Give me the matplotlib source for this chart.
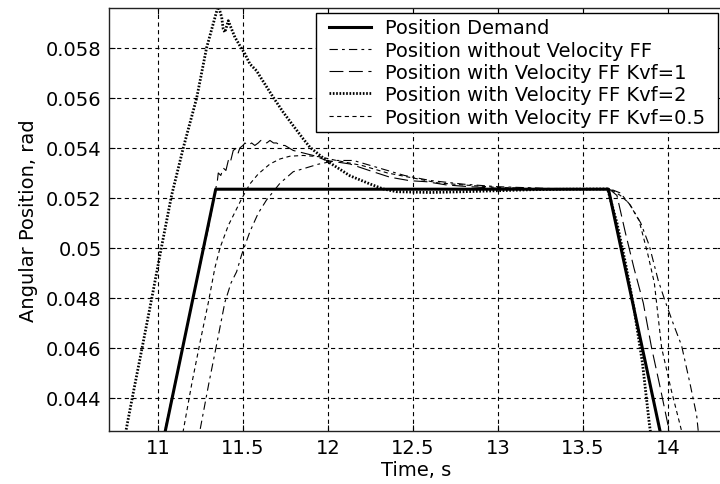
import matplotlib
matplotlib.use("Agg")
import matplotlib.pyplot as plt
from matplotlib.path import Path

plt.rcParams['font.family'] = ['DejaVu Sans']
plt.rcParams['lines.scale_dashes'] = False

# ---- data (time in s, angular position in rad) ----
demand_t = [10.60, 11.34, 13.65, 14.40]
demand_v = [0.02823, 0.05235, 0.05235, 0.02844]

noff_t = [11.10, 11.247, 11.30, 11.35, 11.394, 11.43, 11.463, 11.492, 11.541, 11.590,
          11.639, 11.718, 11.796, 11.875, 11.943, 12.05, 12.15, 12.30, 12.45, 12.60,
          12.80, 13.00, 13.30, 13.66, 13.72, 13.78, 13.84, 13.89, 13.943, 13.982,
          14.035, 14.080, 14.129, 14.169, 14.178, 14.30]
noff_v = [0.0392, 0.04269, 0.0446, 0.0463, 0.04783, 0.0486, 0.04905, 0.04972, 0.05065, 0.05139,
          0.05192, 0.05259, 0.05305, 0.05321, 0.05335, 0.05350, 0.05350, 0.05320, 0.05290, 0.05270,
          0.05255, 0.05245, 0.05238, 0.05236, 0.0522, 0.0517, 0.0510, 0.0501, 0.0487, 0.0479,
          0.0469, 0.0461, 0.0446, 0.0433, 0.04269, 0.0390]

kvf1_t = [10.90, 11.00, 11.10, 11.20, 11.30, 11.341, 11.350, 11.355, 11.370, 11.384,
          11.400, 11.414, 11.425, 11.443, 11.463, 11.472, 11.482, 11.500, 11.512, 11.531,
          11.551, 11.570, 11.590, 11.605, 11.620, 11.640, 11.659, 11.680, 11.698, 11.720,
          11.747, 11.796, 11.855, 11.914, 11.992, 12.129, 12.247, 12.365, 12.482, 12.580,
          12.698, 12.835, 12.990, 13.300, 13.655, 13.70, 13.75, 13.80, 13.855, 13.904,
          13.955, 14.007, 14.10]
kvf1_v = [0.0382, 0.0414, 0.0446, 0.0478, 0.0509, 0.0524, 0.0527, 0.0530, 0.0529, 0.0532,
          0.0531, 0.0535, 0.0534, 0.0539, 0.0540, 0.0538, 0.0540, 0.0541, 0.0542, 0.0541,
          0.0542, 0.0541, 0.0542, 0.0543, 0.0543, 0.0542, 0.0543, 0.0542, 0.0542, 0.0541,
          0.0541, 0.0539, 0.0538, 0.0537, 0.0535, 0.05336, 0.05309, 0.05283, 0.05269, 0.05265,
          0.05252, 0.05245, 0.05239, 0.05237, 0.05236, 0.0521, 0.0506, 0.0492, 0.0478, 0.0460,
          0.0444, 0.0427, 0.0397]

kvf2_t = [10.70, 10.812, 10.849, 10.904, 10.963, 11.02, 11.08, 11.149, 11.228, 11.286,
          11.355, 11.375, 11.384, 11.394, 11.414, 11.433, 11.453, 11.482, 11.512, 11.541,
          11.580, 11.610, 11.678, 11.737, 11.796, 11.855, 11.894, 11.992, 12.129, 12.247,
          12.325, 12.404, 12.600, 12.800, 13.000, 13.200, 13.400, 13.645, 13.70, 13.75,
          13.80, 13.85, 13.89, 13.95]
kvf2_v = [0.0391, 0.04269, 0.0440, 0.0459, 0.04796, 0.0500, 0.05209, 0.0540, 0.0560, 0.0580,
          0.0597, 0.05923, 0.05876, 0.05863, 0.05909, 0.05876, 0.05843, 0.05809, 0.05776, 0.05736,
          0.05709, 0.05676, 0.05603, 0.05543, 0.05489, 0.05436, 0.05403, 0.05349, 0.05289, 0.05256,
          0.05236, 0.05225, 0.05222, 0.05225, 0.05229, 0.05233, 0.05235, 0.05236, 0.0510, 0.0494,
          0.0476, 0.0454, 0.0430, 0.0400]

kvf05_t = [11.00, 11.149, 11.20, 11.25, 11.296, 11.335, 11.365, 11.414, 11.453, 11.492,
           11.541, 11.590, 11.659, 11.718, 11.776, 11.855, 11.950, 12.050, 12.200, 12.350,
           12.500, 12.650, 12.800, 13.000, 13.300, 13.660, 13.720, 13.770, 13.830, 13.880,
           13.920, 13.963, 14.020, 14.080, 14.180]
kvf05_v = [0.0378, 0.04269, 0.0446, 0.0463, 0.0478, 0.0492, 0.0500, 0.0509, 0.05143, 0.05196,
           0.05256, 0.05296, 0.05336, 0.05356, 0.05367, 0.05370, 0.05365, 0.05350, 0.05330, 0.05300,
           0.05280, 0.05260, 0.05252, 0.05242, 0.05237, 0.05236, 0.0521, 0.0518, 0.0511, 0.0498,
           0.0486, 0.0460, 0.0443, 0.04269, 0.0395]

labels = ['Position Demand', 'Position without Velocity FF',
          'Position with Velocity FF Kvf=1', 'Position with Velocity FF Kvf=2',
          'Position with Velocity FF Kvf=0.5']

xticks = [11, 11.5, 12, 12.5, 13, 13.5, 14]
yticks = [0.044, 0.046, 0.048, 0.05, 0.052, 0.054, 0.056, 0.058]
yticklabels = ['0.044', '0.046', '0.048', '0.05', '0.052', '0.054', '0.056', '0.058']


def legend_frame(x0, y0, width, height, mutation_size):
    """Rectangular legend frame, padded wider left/right than top/bottom."""
    px = 0.46 * mutation_size
    py = 0.06 * mutation_size
    verts = [(x0 - px, y0 - py), (x0 + width + px, y0 - py),
             (x0 + width + px, y0 + height + py), (x0 - px, y0 + height + py),
             (x0 - px, y0 - py)]
    codes = [Path.MOVETO, Path.LINETO, Path.LINETO, Path.LINETO, Path.CLOSEPOLY]
    return Path(verts, codes)


fig = plt.figure(figsize=(7.2, 4.85), dpi=100)
ax = fig.add_axes([0.1518, 0.1099, 0.8524, 0.8716])

ax.plot(demand_t, demand_v, color='black', lw=2.2, ls='-', label=labels[0], zorder=5)
ax.plot(noff_t, noff_v, color='black', lw=0.8, ls=(0, (6, 3, 2, 3)), label=labels[1])
ax.plot(kvf1_t, kvf1_v, color='black', lw=0.8, ls=(0, (10, 4)), label=labels[2])
ax.plot(kvf2_t, kvf2_v, color='black', lw=2.0, ls=(0, (1.2, 1.2)), label=labels[3])
ax.plot(kvf05_t, kvf05_v, color='black', lw=0.8, ls=(0, (3, 2.5)), label=labels[4])

ax.set_xlim(10.714, 14.324)
ax.set_ylim(0.04269, 0.0596)
ax.set_xticks(xticks)
ax.set_xticklabels([f'{v:g}' for v in xticks])
ax.set_yticks(yticks)
ax.set_yticklabels(yticklabels)

ax.grid(True, color='black', lw=0.8, ls=(0, (3, 2.5)))
ax.tick_params(direction='in', length=4, width=0.8, top=True, right=True,
               labelsize=14, colors='black', pad=5.5)
for s in ax.spines.values():
    s.set_linewidth(1.0)
    s.set_color('#222222')

ax.set_xlabel('Time, s', fontsize=14, labelpad=2)
ax.set_ylabel('Angular Position, rad', fontsize=14, labelpad=6)

leg = ax.legend(loc='upper right', bbox_to_anchor=(0.9772, 0.9846), borderaxespad=0,
                fontsize=14, frameon=True, fancybox=False, edgecolor='black',
                framealpha=1, handlelength=2.15, handletextpad=0.74, labelspacing=0.17,
                borderpad=0.2)
leg.get_frame().set_linewidth(1.0)
leg.get_frame().set_boxstyle(legend_frame)

fig.savefig('out.png', dpi=100)
